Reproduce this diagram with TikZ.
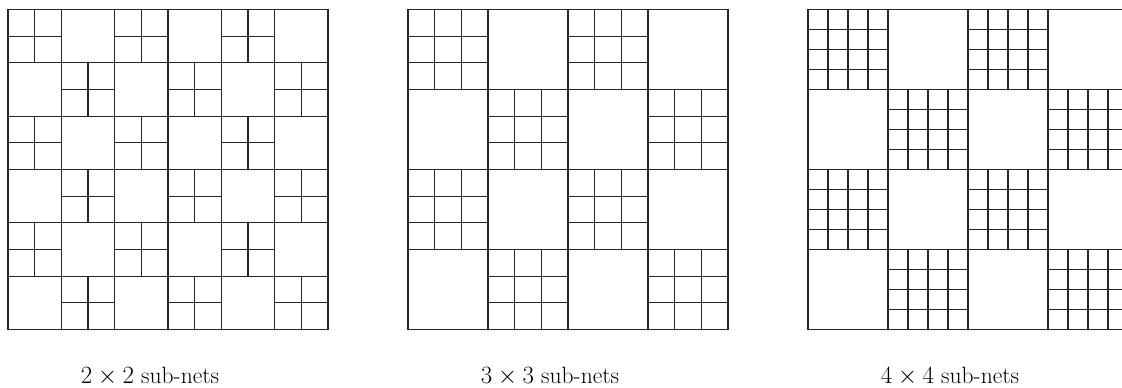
\documentclass[tikz,border=0pt]{standalone}
\tikzset{
  gridline/.style={line width=1.2pt, draw=black!85, line cap=rect},
  caption/.style={anchor=base, inner sep=0pt, font=\fontsize{23.5}{28}\selectfont}
}
\begin{document}
\begin{tikzpicture}[x=1pt,y=-1pt]
\useasboundingbox (0,0) rectangle (1122,388);
\begin{scope}
\clip (0,0) rectangle (1122,388);
\foreach \gx/\b/\n/\s in {8/53.3333/6/2, 408/80/4/3, 808/80/4/4} {
  \begin{scope}[shift={(\gx,9.5)}]
    \pgfmathtruncatemacro\nm{\n-1}
    \pgfmathtruncatemacro\sm{\s-1}
    \pgfmathsetmacro\tot{\n*\b}
    \pgfmathsetmacro\sb{\b/\s}
    \foreach \i in {0,...,\n} {
      \draw[gridline] (\i*\b,0) -- (\i*\b,\tot);
      \draw[gridline] (0,\i*\b) -- (\tot,\i*\b);
    }
    \foreach \r in {0,...,\nm} {
      \foreach \c in {0,...,\nm} {
        \pgfmathtruncatemacro\parity{mod(\r+\c,2)}
        \ifnum\parity=0
          \foreach \k in {1,...,\sm} {
            \draw[gridline] (\c*\b+\k*\sb,\r*\b) -- (\c*\b+\k*\sb,\r*\b+\b);
            \draw[gridline] (\c*\b,\r*\b+\k*\sb) -- (\c*\b+\b,\r*\b+\k*\sb);
          }
        \fi
      }
    }
  \end{scope}
}
\end{scope}
\node[caption] (l1) at (150,383.3) {$2\times2$ sub-nets};
\node[caption] (l2) at (550,383.3) {$3\times3$ sub-nets};
\node[caption] (l3) at (950,383.3) {$4\times4$ sub-nets};
\end{tikzpicture}
\end{document}
